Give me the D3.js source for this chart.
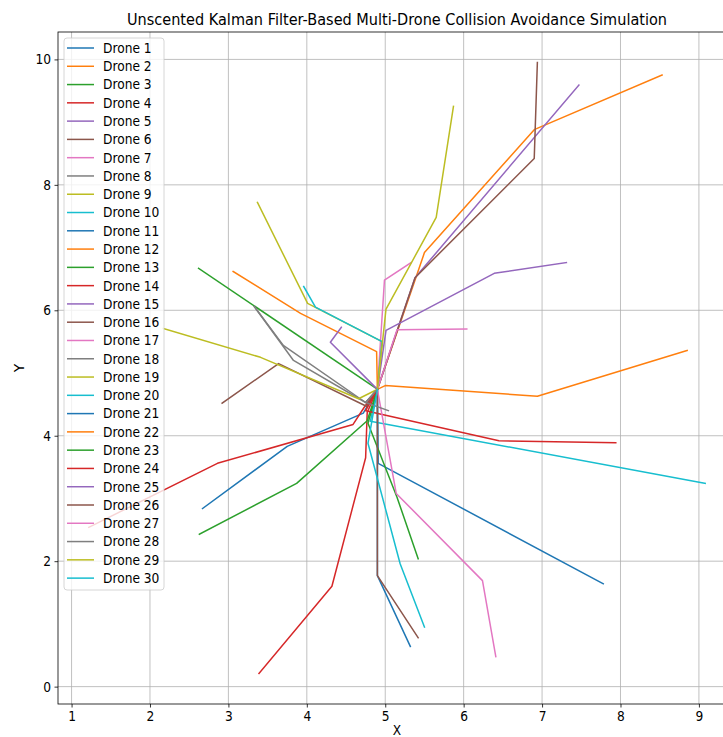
<!DOCTYPE html>
<html>
<head>
<meta charset="utf-8">
<script src="https://cdn.jsdelivr.net/npm/d3@7"></script>
<style>
  html, body { margin: 0; padding: 0; background: #fff; }
  svg { display: block; font-family: "DejaVu Sans", sans-serif; }
</style>
</head>
<body>
<svg id="chart" width="723" height="737"></svg>
<script>
// Drone names, one per trajectory
const droneNames = d3.range(1, 31).map(i => `Drone ${i}`);

// Estimated trajectory x coordinates for each drone
const droneX = [
  [2.67, 3.75, 4.72, 4.90],
  [8.53, 6.90, 5.50, 5.41, 4.90],
  [2.62, 4.90],
  [3.39, 4.32, 4.75, 4.77, 4.90],
  [7.47, 5.38, 4.90],
  [6.94, 6.90, 5.38, 4.90],
  [5.33, 4.99, 4.90],
  [3.33, 3.70, 4.75, 4.90],
  [3.37, 4.01, 4.96, 4.90],
  [3.96, 4.11, 4.96, 4.90],
  [4.90, 4.91, 7.78],
  [3.06, 3.92, 4.89, 4.90],
  [2.63, 3.87, 4.77, 4.90],
  [1.22, 2.86, 4.59, 4.73, 4.90],
  [7.31, 6.39, 5.01, 4.90],
  [2.92, 3.64, 4.76, 4.90],
  [6.04, 5.15, 4.90],
  [3.33, 3.83, 4.75, 4.90],
  [2.17, 3.41, 4.66, 4.90],
  [4.90, 4.81, 9.08],
  [4.90, 4.90, 5.32],
  [4.90, 5.00, 6.94, 8.85],
  [4.90, 4.78, 5.15, 5.42],
  [4.90, 4.75, 6.45, 7.94],
  [4.44, 4.30, 4.90],
  [4.90, 4.90, 5.42],
  [4.90, 5.14, 6.24, 6.41],
  [4.90, 4.75, 5.04],
  [4.90, 5.01, 5.65, 5.87],
  [4.90, 4.78, 5.19, 5.50]
];

// Estimated trajectory y coordinates for each drone
const droneY = [
  [2.84, 3.83, 4.36, 4.74],
  [9.75, 8.88, 6.92, 6.59, 4.74],
  [6.67, 4.74],
  [0.21, 1.60, 3.65, 4.37, 4.74],
  [9.59, 6.52, 4.74],
  [9.95, 8.42, 6.52, 4.74],
  [6.76, 6.48, 4.74],
  [6.06, 5.44, 4.53, 4.74],
  [7.72, 6.11, 5.50, 4.74],
  [6.38, 6.05, 5.50, 4.74],
  [4.74, 3.56, 1.64],
  [6.62, 5.95, 5.34, 4.74],
  [2.43, 3.24, 4.24, 4.74],
  [2.54, 3.56, 4.18, 4.45, 4.74],
  [6.76, 6.59, 5.68, 4.74],
  [4.52, 5.15, 4.47, 4.74],
  [5.70, 5.69, 4.74],
  [6.06, 5.20, 4.53, 4.74],
  [5.71, 5.25, 4.59, 4.74],
  [4.74, 4.23, 3.24],
  [4.74, 1.77, 0.64],
  [4.74, 4.80, 4.63, 5.36],
  [4.74, 4.20, 3.02, 2.04],
  [4.74, 4.40, 3.92, 3.89],
  [5.73, 5.49, 4.74],
  [4.74, 1.77, 0.78],
  [4.74, 3.08, 1.69, 0.48],
  [4.74, 4.53, 4.40],
  [4.74, 6.02, 7.48, 9.25],
  [4.74, 3.88, 1.96, 0.95]
];

const xTicks = [1, 2, 3, 4, 5, 6, 7, 8, 9];
const yTicks = [0, 2, 4, 6, 8, 10];
const titleText = "Unscented Kalman Filter-Based Multi-Drone Collision Avoidance Simulation";

const palette = d3.schemeCategory10;
const svg = d3.select("#chart");
const squeeze = 0.88; // horizontal text condensing

const margin = { left: 58, top: 32, right: 736, bottom: 704 };

// Data extent padded by 5% on each side
const allX = droneX.flat(), allY = droneY.flat();
const [x0, x1] = d3.extent(allX), [y0, y1] = d3.extent(allY);
const px = (x1 - x0) * 0.05, py = (y1 - y0) * 0.05;

const x = d3.scaleLinear().domain([x0 - px, x1 + px]).range([margin.left, margin.right]);
const y = d3.scaleLinear().domain([y0 - py, y1 + py]).range([margin.bottom, margin.top]);

svg.append("defs").append("clipPath").attr("id", "plotClip")
  .append("rect")
  .attr("x", margin.left).attr("y", margin.top)
  .attr("width", margin.right - margin.left).attr("height", margin.bottom - margin.top);

// Grid
const grid = svg.append("g");
grid.selectAll("line.gx").data(xTicks).join("line")
  .attr("x1", d => x(d)).attr("x2", d => x(d))
  .attr("y1", margin.top).attr("y2", margin.bottom)
  .attr("stroke", "#b0b0b0").attr("stroke-width", 0.8);
grid.selectAll("line.gy").data(yTicks).join("line")
  .attr("x1", margin.left).attr("x2", margin.right)
  .attr("y1", d => y(d)).attr("y2", d => y(d))
  .attr("stroke", "#b0b0b0").attr("stroke-width", 0.8);

// Trajectories
const line = d3.line().x(d => x(d[0])).y(d => y(d[1]));
svg.append("g").attr("clip-path", "url(#plotClip)")
  .selectAll("path").data(droneNames).join("path")
  .attr("d", (d, i) => line(droneX[i].map((v, j) => [v, droneY[i][j]])))
  .attr("fill", "none")
  .attr("stroke", (d, i) => palette[i % 10])
  .attr("stroke-width", 1.5)
  .attr("stroke-linejoin", "round")
  .attr("stroke-linecap", "square");

// Axes
const xAxis = d3.axisBottom(x).tickValues(xTicks).tickSize(3.5).tickPadding(3.5).tickFormat(d3.format("d"));
const yAxis = d3.axisLeft(y).tickValues(yTicks).tickSize(3.5).tickPadding(3.5).tickFormat(d3.format("d"));

const gx = svg.append("g").attr("transform", `translate(0,${margin.bottom})`).call(xAxis);
const gy = svg.append("g").attr("transform", `translate(${margin.left},0)`).call(yAxis);
[gx, gy].forEach(g => {
  g.select(".domain").remove();
  g.selectAll(".tick line").attr("stroke", "#000").attr("stroke-width", 0.8);
  g.selectAll(".tick text").attr("fill", "#000")
    .style("font-family", "DejaVu Sans").style("font-size", "13.9px");
});
// Condense tick labels horizontally around their anchors
gx.selectAll(".tick text").attr("transform", `scale(${squeeze},1)`);
gy.selectAll(".tick text").each(function () {
  const t = d3.select(this);
  const ax = +t.attr("x");
  t.attr("transform", `translate(${ax * (1 - squeeze)},0) scale(${squeeze},1)`);
});

// Spines
svg.append("rect")
  .attr("x", margin.left).attr("y", margin.top)
  .attr("width", margin.right - margin.left).attr("height", margin.bottom - margin.top)
  .attr("fill", "none").attr("stroke", "#000").attr("stroke-width", 0.8);

// Title and axis labels
svg.append("text").attr("transform", "translate(397,25) scale(0.868,1)")
  .attr("text-anchor", "middle").style("font-size", "16.7px")
  .text(titleText);
svg.append("text").attr("transform", `translate(397,735) scale(${squeeze},1)`)
  .attr("text-anchor", "middle").style("font-size", "13.9px").text("X");
svg.append("text").attr("transform", "translate(24,368) rotate(-90)")
  .attr("text-anchor", "middle").style("font-size", "13.9px").text("Y");

// Legend
const legend = svg.append("g");
legend.append("rect")
  .attr("x", 64).attr("y", 38).attr("width", 100).attr("height", 552)
  .attr("rx", 3).attr("fill", "#fff").attr("fill-opacity", 0.8)
  .attr("stroke", "#cccccc").attr("stroke-width", 0.8);
const rowH = 18.28;
const items = legend.selectAll("g.item").data(droneNames).join("g")
  .attr("transform", (d, i) => `translate(0,${48 + i * rowH})`);
items.append("line").attr("x1", 67).attr("x2", 94).attr("y1", 0).attr("y2", 0)
  .attr("stroke", (d, i) => palette[i % 10]).attr("stroke-width", 1.5);
items.append("text")
  .attr("transform", `translate(103,0) scale(${squeeze},1)`)
  .attr("dy", "0.35em")
  .style("font-size", "13.9px").text(d => d);
</script>
</body>
</html>
